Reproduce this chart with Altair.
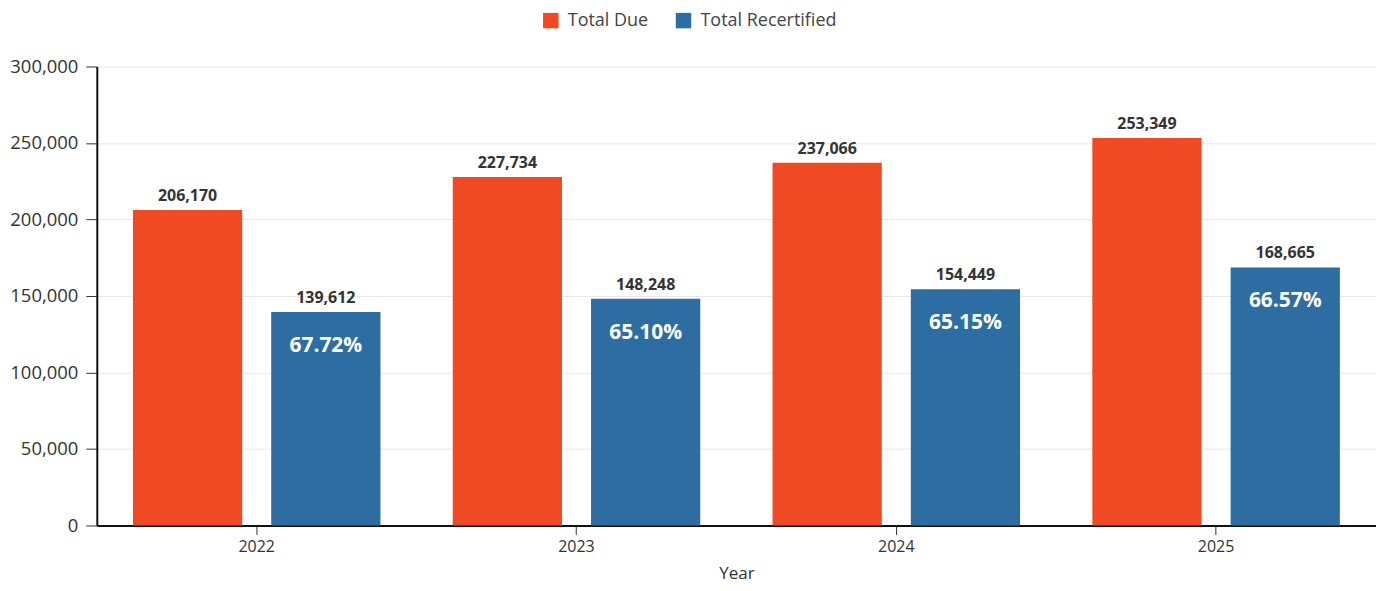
import altair as alt
import pandas as pd

years = ["2022", "2023", "2024", "2025"]
total_due = [206170, 227734, 237066, 253349]
total_recert = [139612, 148248, 154449, 168665]
series = ["Total Due", "Total Recertified"]
colors = ["#EF4A23", "#2E6DA2"]
y_ticks = [0, 50000, 100000, 150000, 200000, 250000, 300000]

rows = []
for y, d, r in zip(years, total_due, total_recert):
    rows.append({"Year": y, "Series": series[0], "Value": d, "Pct": ""})
    rows.append({"Year": y, "Series": series[1], "Value": r, "Pct": f"{r / d * 100:.2f}%"})
df = pd.DataFrame(rows)

FONT = "Open Sans"
TXT = "#333333"

x = alt.X("Year:N", title="Year",
          scale=alt.Scale(paddingInner=0.226, paddingOuter=0.113),
          axis=alt.Axis(labelAngle=0, labelFontSize=16, titleFontSize=17, titleFontWeight="normal",
                        labelColor=TXT, titleColor=TXT, domainColor="#111", domainWidth=2,
                        tickColor="#333", tickSize=9, labelPadding=4, titlePadding=11, grid=False))
xo = alt.XOffset("Series:N", sort=series, scale=alt.Scale(paddingInner=0.21))
y = alt.Y("Value:Q", title=None, scale=alt.Scale(domain=[0, 300000]),
          axis=alt.Axis(values=y_ticks, format=",d",
                        labelFontSize=18.5, labelColor=TXT, domainColor="#111", domainWidth=2,
                        tickColor="#333", tickSize=11, labelPadding=8,
                        gridColor="#e8e8e8", gridWidth=1))

base = alt.Chart(df).encode(x=x, xOffset=xo, y=y)

bars = base.mark_bar().encode(
    color=alt.Color("Series:N", sort=series, scale=alt.Scale(domain=series, range=colors),
                    legend=alt.Legend(title=None, orient="none", legendX=446, legendY=-55,
                                      direction="horizontal",
                                      labelFontSize=18, labelColor="#444", labelOffset=8,
                                      symbolType="square", symbolSize=240, symbolStrokeWidth=0,
                                      columnPadding=26)),
)

vals = base.mark_text(dy=-14, fontSize=16, fontWeight="bold", color=TXT, font=FONT).encode(
    text=alt.Text("Value:Q", format=",d"))

pct = base.mark_text(dy=34, fontSize=21, fontWeight="bold", color="white", font=FONT).encode(
    text="Pct:N")

chart = (bars + vals + pct).properties(
    width=1282, height=460,
    autosize=alt.AutoSizeParams(type="none"),
    padding={"left": 89, "right": 0, "top": 58, "bottom": 57},
).configure(font=FONT).configure_view(stroke=None)

chart.save("out.html", embed_options={"renderer": "svg", "actions": False})
